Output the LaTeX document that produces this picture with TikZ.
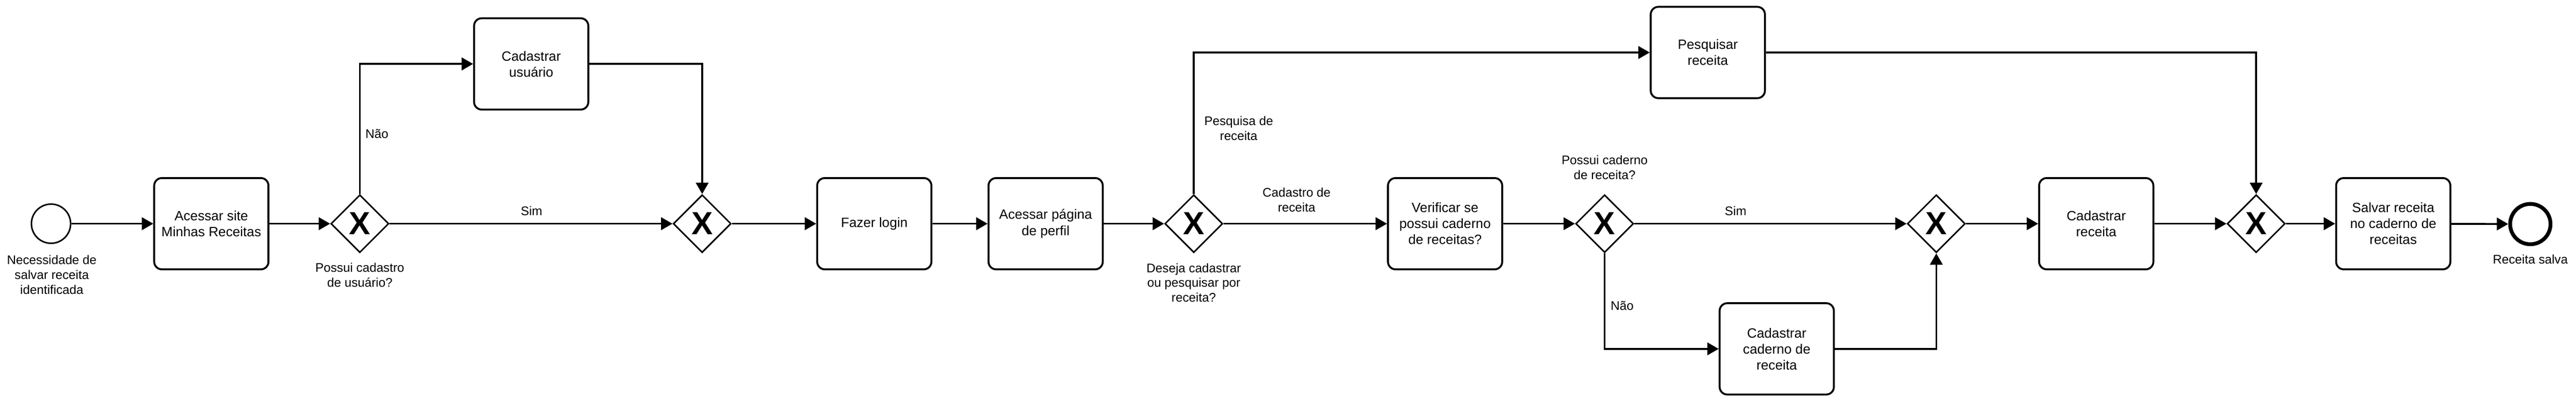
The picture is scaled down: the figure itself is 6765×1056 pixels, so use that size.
\documentclass[tikz,border=0pt]{standalone}
\usepackage{fontspec}
\setmainfont{Liberation Sans}
\usetikzlibrary{shapes.geometric,arrows.meta}
\begin{document}
\begin{tikzpicture}[x=0.5pt,y=-0.5pt,
  task/.style={draw, line width=2.5pt, rounded corners=10pt, minimum width=150pt, minimum height=120pt, align=center, inner sep=2pt, font=\fontsize{17.7pt}{21pt}\selectfont},
  gw/.style={diamond, draw, line width=2pt, minimum width=76pt, minimum height=76pt, aspect=1, inner sep=0pt, font=\bfseries\fontsize{42pt}{42pt}\selectfont},
  evstart/.style={circle, draw, line width=2pt, minimum size=51.5pt, inner sep=0pt},
  evend/.style={circle, draw, line width=5pt, minimum size=53pt, inner sep=0pt},
  lbl/.style={align=center, inner sep=0pt, font=\fontsize{16.4pt}{19.5pt}\selectfont},
  flow/.style={line width=2.5pt, -{Triangle[length=15pt,width=16.5pt]}}
]
\useasboundingbox (0,0) rectangle (6765,1056);
\node[evstart] (s) at (134,588) {};
\node[lbl] (ls) at (136,722) {Necessidade de\\salvar receita\\identificada};
\node[task] (t1) at (555,588) {Acessar site\\Minhas Receitas};
\node[gw] (g1) at (945,588) {X};
\node[lbl] (lg1) at (945,723) {Possui cadastro\\de usuário?};
\node[task] (t2) at (1395,168) {Cadastrar\\usuário};
\node[lbl] (lnao1) at (990,352) {Não};
\node[lbl] (lsim1) at (1396,554) {Sim};
\node[gw] (g2) at (1844,588) {X};
\node[task] (t3) at (2296,588) {Fazer login};
\node[task] (t4) at (2746,588) {Acessar página\\de perfil};
\node[gw] (g3) at (3135,588) {X};
\node[lbl] (lg3) at (3135,743) {Deseja cadastrar\\ou pesquisar por\\receita?};
\node[lbl] (lpesq) at (3253,337) {Pesquisa de\\receita};
\node[lbl] (lcad) at (3405,525) {Cadastro de\\receita};
\node[task] (t5) at (4485,138) {Pesquisar\\receita};
\node[task] (t6) at (3795,588) {Verificar se\\possui caderno\\de receitas?};
\node[gw] (g4) at (4214,588) {X};
\node[lbl] (lg4) at (4214,440) {Possui caderno\\de receita?};
\node[lbl] (lsim2) at (4558,554) {Sim};
\node[lbl] (lnao2) at (4260,803) {Não};
\node[task] (t7) at (4666,917) {Cadastrar\\caderno de\\receita};
\node[gw] (g5) at (5085,588) {X};
\node[task] (t8) at (5505,588) {Cadastrar\\receita};
\node[gw] (g6) at (5925,588) {X};
\node[task] (t9) at (6285,588) {Salvar receita\\no caderno de\\receitas};
\node[evend] (e) at (6645,589) {};
\node[lbl] (le) at (6645,682) {Receita salva};
\draw[flow] (s) -- (t1);
\draw[flow] (t1) -- (g1);
\draw[flow] (g1.north) |- (t2.west);
\draw[flow] (g1.east) -- (g2.west);
\draw[flow] (t2.east) -| (g2.north);
\draw[flow] (g2) -- (t3);
\draw[flow] (t3) -- (t4);
\draw[flow] (t4) -- (g3);
\draw[flow] (g3.north) |- (t5.west);
\draw[flow] (g3.east) -- (t6.west);
\draw[flow] (t6) -- (g4);
\draw[flow] (g4.east) -- (g5.west);
\draw[flow] (g4.south) |- (t7.west);
\draw[flow] (t7.east) -| (g5.south);
\draw[flow] (g5) -- (t8);
\draw[flow] (t8) -- (g6);
\draw[flow] (t5.east) -| (g6.north);
\draw[flow] (g6) -- (t9);
\draw[flow] (t9) -- (e);
\end{tikzpicture}
\end{document}
